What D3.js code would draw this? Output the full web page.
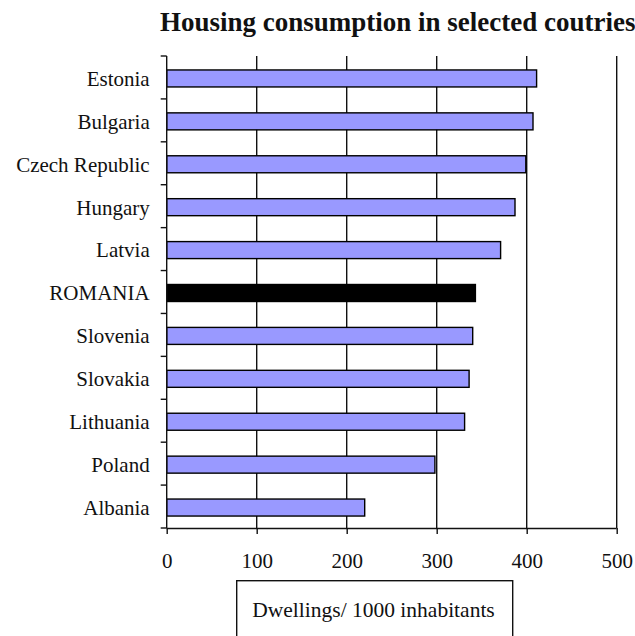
<!DOCTYPE html>
<html><head><meta charset="utf-8">
<script src="https://cdn.jsdelivr.net/npm/d3@7"></script>
<style>html,body{margin:0;padding:0;background:#fff;overflow:hidden}
svg text{font-family:"Liberation Serif",serif}</style>
</head><body>
<script>
const countries = ["Estonia","Bulgaria","Czech Republic","Hungary","Latvia","ROMANIA","Slovenia","Slovakia","Lithuania","Poland","Albania"];
const dwellings = [411,407,399,387,371,343,340,336,331,298,220];
const highlight = ["ROMANIA"];
const xTicks = [0,100,200,300,400,500];
const titleText = "Housing consumption in selected coutries";
const axisTitle = "Dwellings/ 1000 inhabitants";

(function(){
const W=635,H=636;
const svg=d3.select("body").append("svg").attr("width",W).attr("height",H);
const pL=166.7,pR=616.7,pT=56,pB=528;
const x=d3.scaleLinear().domain([0,500]).range([pL,pR]);
const y=d3.scaleBand().domain(countries).range([pT,pB]).paddingInner(0).paddingOuter(0);
const font="Liberation Serif";

svg.append("text").attr("x",160).attr("y",31).style("font-family",font).style("font-weight","bold")
  .style("font-size","27px").attr("fill","#111").text(titleText);

// gridlines
svg.append("g").selectAll("line").data(xTicks.filter(d=>d>0)).join("line")
  .attr("x1",d=>x(d)).attr("x2",d=>x(d)).attr("y1",pT).attr("y2",pB)
  .attr("stroke","#111").attr("stroke-width",1.4);

// bars
const bh=17;
svg.append("g").selectAll("rect").data(countries).join("rect")
  .attr("x",x(0)).attr("y",(d)=>y(d)+y.bandwidth()/2-bh/2+1)
  .attr("width",(d,i)=>x(dwellings[i])-x(0)).attr("height",bh)
  .attr("fill",d=>highlight.includes(d)?"#000":"#9999FF")
  .attr("stroke","#000").attr("stroke-width",1.4);

// x axis
const xa=svg.append("g").attr("transform",`translate(0,${pB})`)
  .call(d3.axisBottom(x).tickValues(xTicks).tickSize(6).tickPadding(19));
xa.attr("font-family",null);
xa.select(".domain").attr("stroke","#111").attr("stroke-width",1.4).attr("d",`M${pL},0.5H${pR}`);
xa.selectAll(".tick line").attr("stroke","#111").attr("stroke-width",1.4);
xa.selectAll("text").style("font-family",font).style("font-size","21px").attr("fill","#111");

// y axis with ticks at band boundaries
const ya=svg.append("g").attr("transform",`translate(${pL},0)`);
ya.append("line").attr("x1",0).attr("x2",0).attr("y1",pT).attr("y2",pB).attr("stroke","#111").attr("stroke-width",1.4);
const bounds=countries.map(d=>y(d)).concat([pB]);
ya.selectAll("line.t").data(bounds).join("line").attr("class","t")
  .attr("x1",-6).attr("x2",0).attr("y1",d=>d).attr("y2",d=>d).attr("stroke","#111").attr("stroke-width",1.4);
ya.selectAll("text").data(countries).join("text")
  .attr("x",-17).attr("y",d=>y(d)+y.bandwidth()/2+1)
  .attr("dy","0.35em").attr("text-anchor","end")
  .style("font-family",font).style("font-size","21px").attr("fill","#111").text(d=>d);

// axis title box
svg.append("rect").attr("x",236.7).attr("y",580.7).attr("width",276).attr("height",70)
  .attr("fill","none").attr("stroke","#111").attr("stroke-width",1.4);
svg.append("text").attr("x",373.5).attr("y",617).attr("text-anchor","middle")
  .style("font-family",font).style("font-size","21.5px").attr("fill","#111").text(axisTitle);
})();
</script>
</body></html>
